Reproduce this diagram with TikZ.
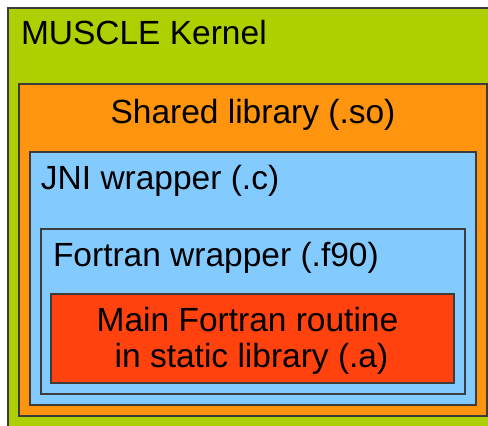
\documentclass[tikz,border=0pt]{standalone}
\usepackage{fontspec}
\setmainfont{Liberation Sans}
\begin{document}
\begin{tikzpicture}[x=1pt,y=-1pt,line cap=rect]
				\definecolor{custcol_ae_cf_00}{RGB}{174, 207, 0}
				\definecolor{custcol_ff_95_0e}{RGB}{255, 149, 14}
				\definecolor{custcol_83_ca_ff}{RGB}{131, 202, 255}
				\definecolor{custcol_ff_42_0e}{RGB}{255, 66, 14}
				\definecolor{custcol_3c_3c_3c}{RGB}{60, 60, 60}
				\tikzset{layerbox/.style={line width=1.2pt, custcol_3c_3c_3c},
					layertext/.style={inner sep=0, outer sep=0, black, font=\fontsize{33.5pt}{36pt}\selectfont}}
				\useasboundingbox (0.0,0.0) rectangle (488.0,426.0);
				\clip (0.0,0.0) rectangle (488.0,426.0);
				\filldraw [layerbox, fill=custcol_ae_cf_00]  (8.0,8.0) rectangle (500.0,440.0);
				\node[layertext, anchor=base west] (kernel) at  (21.0,44.0)  {MUSCLE Kernel};
				\filldraw [layerbox, fill=custcol_ff_95_0e]  (19.0,84.0) rectangle (487.0,416.0);
				\node[layertext, anchor=base] (shared) at  (253.0,123.0)  {Shared library (.so)};
				\filldraw [layerbox, fill=custcol_83_ca_ff]  (30.0,152.0) rectangle (476.0,405.0);
				\node[layertext, anchor=base west] (jni) at  (41.0,189.0)  {JNI wrapper (.c)};
				\filldraw [layerbox, fill=custcol_83_ca_ff]  (41.0,229.0) rectangle (465.0,394.0);
				\node[layertext, anchor=base west] (fortran) at  (53.0,266.0)  {Fortran wrapper (.f90)};
				\filldraw [layerbox, fill=custcol_ff_42_0e]  (51.0,294.0) rectangle (454.0,383.0);
				\node[layertext, anchor=base] (mainA) at  (247.5,331.0)  {Main Fortran routine};
				\node[layertext, anchor=base] (mainB) at  (251.5,367.0)  {in static library (.a)};
			\end{tikzpicture}
\end{document}
